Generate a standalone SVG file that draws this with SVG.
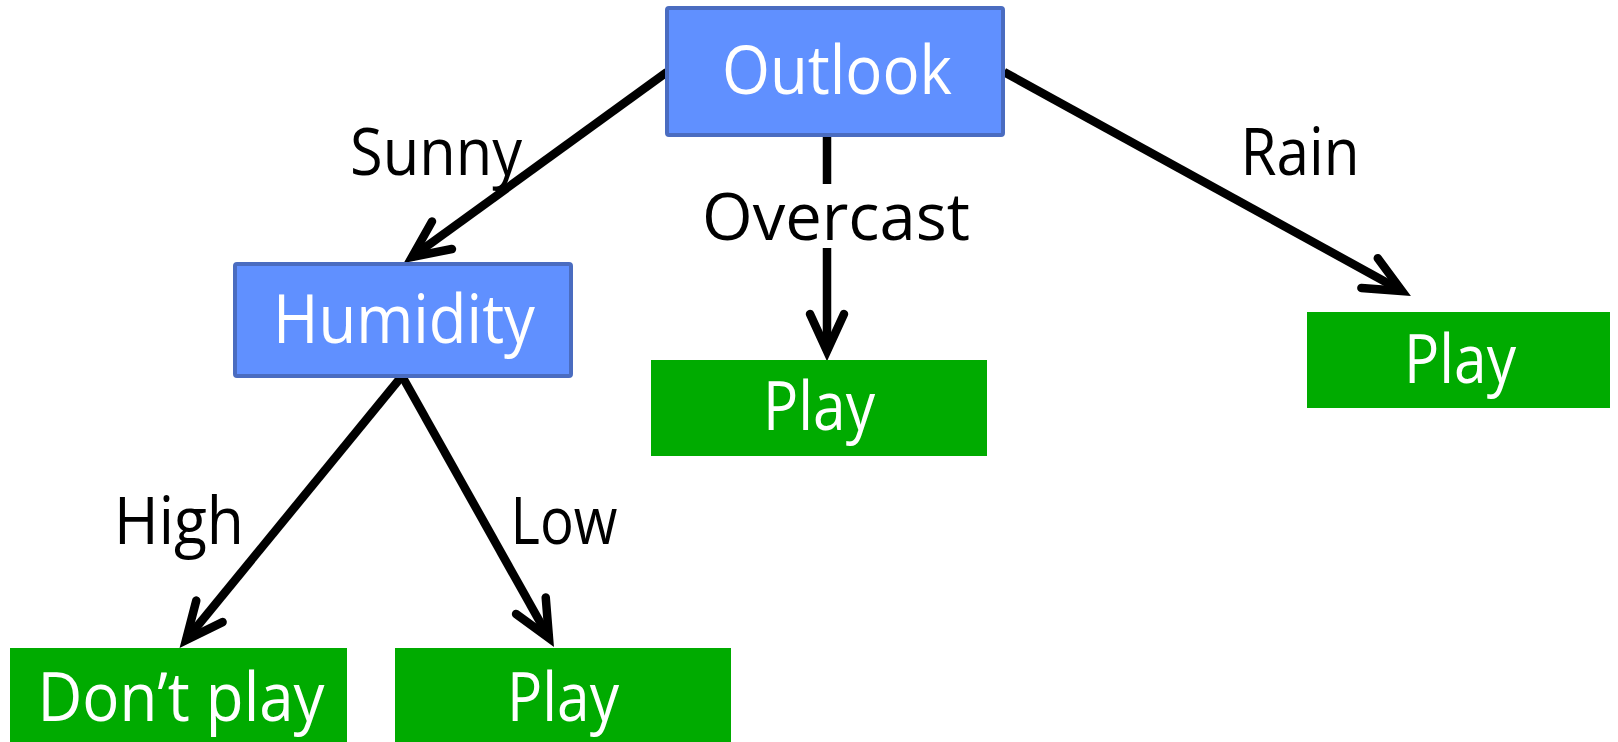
<svg xmlns="http://www.w3.org/2000/svg" width="1618" height="742" viewBox="0 0 1618 742">
  <style>
    .decision { fill: #6090ff; stroke: #4a6cc0; stroke-width: 4; }
    .leaf { fill: #00ab00; }
    .node-text { font-family: "Open Sans", "Liberation Sans", sans-serif; font-size: 67px; fill: #ffffff; text-anchor: middle; }
    .edge { fill: none; stroke: #000000; stroke-width: 8.5; stroke-linecap: butt; marker-end: url(#chevron); }
    .edge-label { font-family: "Open Sans", "Liberation Sans", sans-serif; font-size: 66px; fill: #000000; text-anchor: middle; }
  </style>
  <defs>
    <!-- open chevron arrowhead, sized in user units -->
    <marker id="chevron" markerUnits="userSpaceOnUse" orient="auto" overflow="visible"
            markerWidth="60" markerHeight="60" viewBox="-50 -30 60 60" refX="0" refY="0">
      <path d="M-37,-17 L0,0 L-37,17" fill="none" stroke="#000000" stroke-width="8.5"
            stroke-linecap="round" stroke-linejoin="miter" stroke-miterlimit="10"/>
    </marker>
  </defs>

  <rect x="0" y="0" width="1618" height="742" fill="#ffffff"/>

  <!-- connectors -->
  <g id="connectors">
    <path id="edge-sunny" class="edge" d="M667,72 L412,257"/>
    <path id="edge-overcast" class="edge" d="M827,137 L827,351"/>
    <path id="edge-rain" class="edge" d="M1004,72 L1402,291"/>
    <path id="edge-high" class="edge" d="M402,376 L186,640"/>
    <path id="edge-low" class="edge" d="M402,376 L549,638"/>
  </g>

  <!-- branch labels -->
  <g id="labels">
    <text class="edge-label" x="436" y="175" textLength="172" lengthAdjust="spacingAndGlyphs">Sunny</text>
    <rect x="696" y="184" width="280" height="64" fill="#ffffff"/>
    <text class="edge-label" x="836" y="240" textLength="268" lengthAdjust="spacingAndGlyphs">Overcast</text>
    <text class="edge-label" x="1300" y="175" textLength="119" lengthAdjust="spacingAndGlyphs">Rain</text>
    <text class="edge-label" x="179" y="544" textLength="130" lengthAdjust="spacingAndGlyphs">High</text>
    <text class="edge-label" x="564" y="544" textLength="107" lengthAdjust="spacingAndGlyphs">Low</text>
  </g>

  <!-- decision nodes -->
  <g id="node-outlook">
    <rect class="decision" x="667" y="8" width="336" height="127" rx="2"/>
    <text class="node-text" x="837" y="94" textLength="230" lengthAdjust="spacingAndGlyphs">Outlook</text>
  </g>
  <g id="node-humidity">
    <rect class="decision" x="235" y="264" width="336" height="112" rx="2"/>
    <text class="node-text" x="404" y="343" textLength="262" lengthAdjust="spacingAndGlyphs">Humidity</text>
  </g>

  <!-- leaf nodes -->
  <g id="leaf-overcast">
    <rect class="leaf" x="651" y="360" width="336" height="96"/>
    <text class="node-text" x="819" y="430" textLength="112" lengthAdjust="spacingAndGlyphs">Play</text>
  </g>
  <g id="leaf-rain">
    <rect class="leaf" x="1307" y="312" width="303" height="96"/>
    <text class="node-text" x="1460" y="383" textLength="112" lengthAdjust="spacingAndGlyphs">Play</text>
  </g>
  <g id="leaf-high">
    <rect class="leaf" x="10" y="648" width="337" height="94"/>
    <text class="node-text" x="181" y="721" textLength="287" lengthAdjust="spacingAndGlyphs">Don’t play</text>
  </g>
  <g id="leaf-low">
    <rect class="leaf" x="395" y="648" width="336" height="94"/>
    <text class="node-text" x="563" y="721" textLength="112" lengthAdjust="spacingAndGlyphs">Play</text>
  </g>
</svg>
